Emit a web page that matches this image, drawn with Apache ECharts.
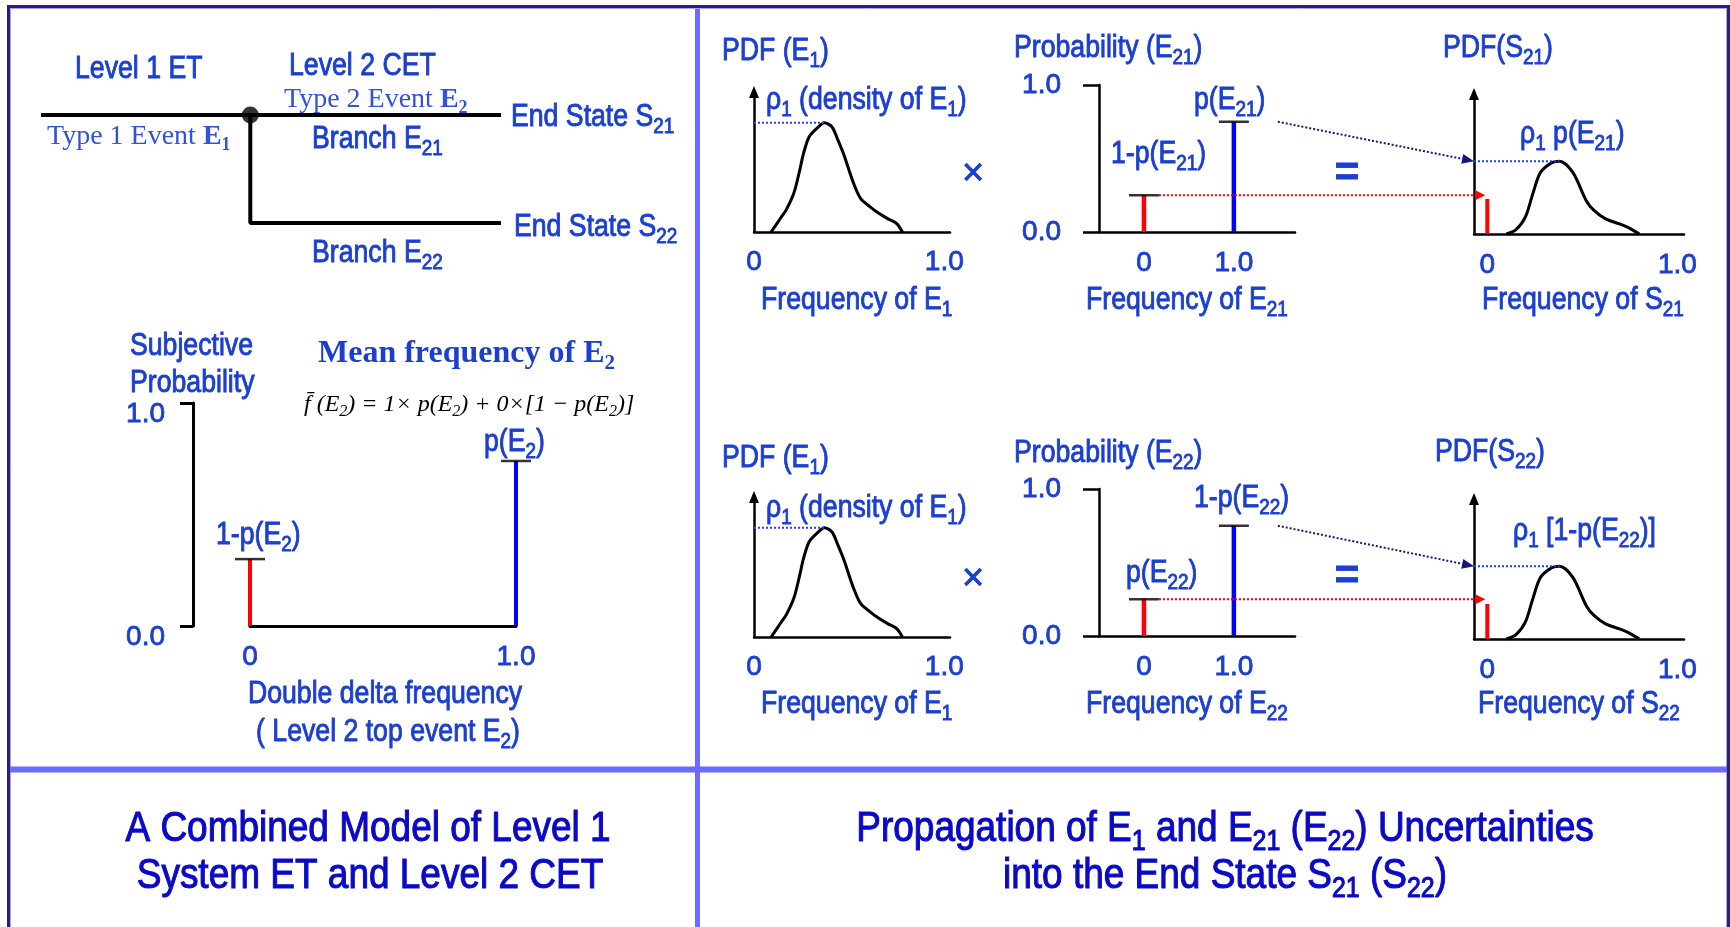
<!DOCTYPE html>
<html><head><meta charset="utf-8">
<script src="https://cdn.jsdelivr.net/npm/echarts@6/dist/echarts.min.js"></script>
<style>html,body{margin:0;padding:0;background:#fff}#c{width:1730px;height:927px}</style>
</head><body><div id="c"></div>
<script>
// ---------------- data ----------------
const treeStart = [0, 1];
const treeJunction = [0.455, 1];
const treeEndS21 = [1, 1];
const treeEndS22 = [1, 0];

const deltaFreq = [0, 1];
const deltaProbE2 = [0.30, 0.74];      // 1-p(E2), p(E2)

const probFreq = [0, 1];
const probE21 = [0.25, 0.75];          // 1-p(E21), p(E21)
const probE22 = [0.25, 0.75];          // p(E22), 1-p(E22)

const pdfE1Freq = [0.09,0.14,0.17,0.21,0.24,0.26,0.29,0.33,0.37,0.41,0.44,0.47,0.52,0.56,0.61,0.66,0.71,0.75,0.78];
const pdfE1Dens = [0.00,0.10,0.16,0.28,0.44,0.56,0.68,0.74,0.78,0.75,0.66,0.56,0.36,0.24,0.18,0.13,0.09,0.06,0.00];

const pdfSFreq = [0.10,0.15,0.20,0.24,0.28,0.34,0.38,0.45,0.52,0.56,0.62,0.70,0.75,0.80];
const pdfSDens = [0.00,0.03,0.12,0.29,0.44,0.51,0.52,0.44,0.24,0.17,0.11,0.07,0.04,0.00];

const spikeS21 = 0.25;
const spikeS22 = 0.25;

const freqTicks = [0, 1];
const freqTickLabels = ['0', '1.0'];
const probTicks = [0, 1];
const probTickLabels = ['0.0', '1.0'];

// ---------------- styles ----------------
const SANS = "'Liberation Sans', Arial, sans-serif";
const SERIF = "'Liberation Serif', 'Times New Roman', serif";
const NARROW = 0.86;
const BLUE = '#1b3fcf';
const CAPBLUE = '#0a0ac6';
const LIGHTBLUE = '#3352d4';
const RED = '#ff0000';
const BARBLUE = '#0000ff';
const AX = {color: '#000', width: 2.5};
const S_XMIN = -0.07;

function lbl(values, texts, margin, extra) {
  return Object.assign({show: true, customValues: values,
    formatter: function (v) { const i = values.indexOf(v); return i >= 0 ? texts[i] : ''; },
    margin: margin, fontSize: 28, fontFamily: SANS, color: BLUE,
    textBorderColor: BLUE, textBorderWidth: 0.8}, extra || {});
}

const grids = [], xAxes = [], yAxes = [], series = [];
function addGrid(g) { grids.push(Object.assign({containLabel: false, outerBoundsMode: 'none'}, g)); return grids.length - 1; }

// tree
const gT = addGrid({left: 41, top: 115, width: 460, height: 108});
xAxes.push({type: 'value', gridIndex: gT, min: 0, max: 1, show: false});
yAxes.push({type: 'value', gridIndex: gT, min: 0, max: 1, show: false});
// double delta
const gD = addGrid({left: 250, top: 403, width: 266, height: 223});
xAxes.push({type: 'value', gridIndex: gD, min: 0, max: 1,
  axisLine: {show: true, lineStyle: {color: '#000', width: 3}}, axisTick: {show: false}, splitLine: {show: false},
  axisLabel: lbl(freqTicks, freqTickLabels, 17)});
yAxes.push({type: 'value', gridIndex: gD, min: 0, max: 1, offset: 57,
  axisLine: {show: true, onZero: false, lineStyle: {color: '#000', width: 3}},
  axisTick: {show: true, customValues: probTicks, length: 13, lineStyle: {color: '#000', width: 3}},
  splitLine: {show: false},
  axisLabel: lbl(probTicks, probTickLabels, 28, {verticalAlign: 'top', lineHeight: 22})});

const rowTops = {e1: [92, 497], p: [85, 489], s: [94, 499]};
const rowGrids = [];
for (let r = 0; r < 2; r++) {
  const gE = addGrid({left: 754, top: rowTops.e1[r], width: 196, height: 140});
  xAxes.push({type: 'value', gridIndex: gE, min: 0, max: 1.03,
    axisLine: {show: true, lineStyle: AX}, axisTick: {show: false}, splitLine: {show: false},
    axisLabel: lbl(freqTicks, freqTickLabels, 16)});
  yAxes.push({type: 'value', gridIndex: gE, min: 0, max: 1,
    axisLine: {show: true, onZero: false, symbol: ['none', 'triangle'], symbolSize: [10, 12], lineStyle: AX},
    axisTick: {show: false}, axisLabel: {show: false}, splitLine: {show: false}});
  const gP = addGrid({left: 1099, top: rowTops.p[r], width: 196, height: 147});
  xAxes.push({type: 'value', gridIndex: gP, min: -0.5, max: 1.68,
    axisLine: {show: true, lineStyle: AX}, axisTick: {show: false}, splitLine: {show: false},
    axisLabel: lbl(freqTicks, freqTickLabels, 17)});
  yAxes.push({type: 'value', gridIndex: gP, min: 0, max: 1,
    axisLine: {show: true, onZero: false, lineStyle: AX},
    axisTick: {show: true, customValues: probTicks, length: 16, lineStyle: AX},
    splitLine: {show: false}, axisLabel: lbl(probTicks, probTickLabels, 38)});
  const gS = addGrid({left: 1474, top: rowTops.s[r], width: 210, height: 140});
  xAxes.push({type: 'value', gridIndex: gS, min: S_XMIN, max: 1.035,
    axisLine: {show: true, lineStyle: AX}, axisTick: {show: false}, splitLine: {show: false},
    axisLabel: lbl(freqTicks, freqTickLabels, 17)});
  yAxes.push({type: 'value', gridIndex: gS, min: 0, max: 1,
    axisLine: {show: true, onZero: false, symbol: ['none', 'triangle'], symbolSize: [10, 12], lineStyle: AX},
    axisTick: {show: false}, axisLabel: {show: false}, splitLine: {show: false}});
  rowGrids.push({gE, gP, gS});
}

function onGrid(g, s) { return Object.assign({xAxisIndex: g, yAxisIndex: g, clip: false, silent: true}, s); }
const treeLine = {color: '#000', width: 4};
series.push(onGrid(gT, {type: 'line', data: [treeStart, treeEndS21], symbol: 'none', lineStyle: treeLine}));
series.push(onGrid(gT, {type: 'line', data: [treeJunction, [treeJunction[0], treeEndS22[1]], treeEndS22], symbol: 'none', lineStyle: treeLine}));
series.push(onGrid(gT, {type: 'scatter', data: [treeJunction], symbolSize: 17, itemStyle: {color: '#000'}}));

function deltaBars(g, freqs, probs, width) {
  series.push(onGrid(g, {type: 'bar', barWidth: width,
    data: freqs.map((f, i) => ({value: [f, probs[i]], itemStyle: {color: i === 0 ? RED : BARBLUE}}))}));
  series.push(onGrid(g, {type: 'scatter', symbol: 'rect', symbolSize: [30, 2.5], z: 5,
    itemStyle: {color: '#000'}, data: freqs.map((f, i) => [f, probs[i]])}));
}
deltaBars(gD, deltaFreq, deltaProbE2, 4);

function peakOf(xs, ys) { let k = 0; ys.forEach((v, i) => { if (v > ys[k]) k = i; }); return [xs[k], ys[k]]; }
const e1Peak = peakOf(pdfE1Freq, pdfE1Dens);
const sPeak = peakOf(pdfSFreq, pdfSDens);
const dotted = {color: '#2b3bff', width: 2, type: [2, 2]};

rowGrids.forEach(function (rg, r) {
  const prob = r ? probE22 : probE21;
  const spike = r ? spikeS22 : spikeS21;
  series.push(onGrid(rg.gE, {type: 'line', smooth: 0.3, symbol: 'none', lineStyle: {color: '#000', width: 3},
    data: pdfE1Freq.map((f, i) => [f, pdfE1Dens[i]])}));
  series.push(onGrid(rg.gE, {type: 'line', symbol: 'none', lineStyle: dotted, data: [[0, e1Peak[1]], e1Peak]}));
  deltaBars(rg.gP, probFreq, prob, 4.5);
  series.push(onGrid(rg.gS, {type: 'line', smooth: 0.3, symbol: 'none', lineStyle: {color: '#000', width: 3},
    data: pdfSFreq.map((f, i) => [f, pdfSDens[i]])}));
  series.push(onGrid(rg.gS, {type: 'line', symbol: 'none', lineStyle: dotted, data: [[S_XMIN, sPeak[1]], sPeak]}));
  series.push(onGrid(rg.gS, {type: 'bar', barWidth: 4, data: [{value: [0, spike], itemStyle: {color: RED}}]}));
});

const chart = echarts.init(document.getElementById('c'), null, {renderer: 'canvas'});
chart.setOption({animation: false, backgroundColor: '#ffffff', grid: grids, xAxis: xAxes, yAxis: yAxes, series: series});

// ---------------- text & frame ----------------
function T(str, x, cy, o) {
  o = Object.assign({fs: 31, ff: SANS, color: BLUE, fw: 'normal', fst: 'normal', align: 'left', sub: null, subfw: null, sx: NARROW, sw: 0.9}, o || {});
  const F = o.fs, S = o.sub || Math.round(F * 0.7);
  const k = 0.44;
  const d = 0.347 * (F - S) + 0.2 * F;
  const P = Math.max(0, k * F + d - k * S);
  const base = {fontSize: F, fontFamily: o.ff, fontWeight: o.fw, fontStyle: o.fst, fill: o.color, color: o.color, verticalAlign: 'top'};
  if (o.sw > 0) { base.stroke = o.color; base.lineWidth = o.sw; }
  const bold = Object.assign({}, base, {fontWeight: 'bold'});
  const sub = Object.assign({}, base, {fontSize: S, fontWeight: o.subfw || o.fw, padding: [P, 0, 0, 0]});
  const parts = []; const re = /([_!])\{([^}]*)\}/g; let last = 0, m;
  while ((m = re.exec(str))) {
    if (m.index > last) parts.push('{m|' + str.slice(last, m.index) + '}');
    parts.push('{' + (m[1] === '_' ? 's' : 'b') + '|' + m[2] + '}');
    last = re.lastIndex;
  }
  if (last < str.length) parts.push('{m|' + str.slice(last) + '}');
  return {type: 'text', x: x, y: cy - k * F, scaleX: o.sx, silent: true, z: 100,
    style: {text: parts.join(''), rich: {m: base, s: sub, b: bold}, fontSize: F, fontFamily: o.ff, fill: o.color,
      align: o.align, textAlign: o.align, verticalAlign: 'top', textVerticalAlign: 'top'}};
}
const C = {align: 'center'};
const SER = {ff: SERIF, fs: 28, sub: 18, color: LIGHTBLUE, subfw: 'bold', sx: 1, sw: 0};
const CAP = {fs: 43, sub: 29, color: CAPBLUE, align: 'center', sw: 1.1};
const texts = [
  T('Level 1 ET', 75, 68), T('Level 2 CET', 289, 65),
  T('Type 2 Event !{E}_{2}', 284, 98, SER), T('Type 1 Event !{E}_{1}', 47, 135, SER),
  T('End State S_{21}', 511, 116), T('Branch E_{21}', 312, 138),
  T('End State S_{22}', 514, 226), T('Branch E_{22}', 312, 252),
  T('Subjective', 130, 345), T('Probability', 130, 382),
  T('Mean frequency of E_{2}', 318, 352, {ff: SERIF, fw: 'bold', fs: 32, sub: 21, sx: 1, sw: 0}),
  T('f\u0304 (E_{2}) = 1\u00d7 p(E_{2}) + 0\u00d7[1 \u2212 p(E_{2})]', 304, 403, {ff: SERIF, fst: 'italic', fs: 24, sub: 16, color: '#000', sx: 1, sw: 0}),
  T('1-p(E_{2})', 216, 534), T('p(E_{2})', 484, 441),
  T('Double delta frequency', 385, 693, C), T('( Level 2 top event E_{2})', 388, 731, C),
  // row 1
  T('PDF (E_{1})', 722, 50), T('\u03c1_{1} (density of E_{1})', 766, 99), T('Frequency of E_{1}', 761, 299),
  T('Probability (E_{21})', 1014, 47), T('1-p(E_{21})', 1111, 153), T('p(E_{21})', 1194, 99),
  T('Frequency of E_{21}', 1086, 299),
  T('\u00d7', 973, 172, {align: 'center', fs: 38, sx: 1}), T('=', 1347, 172, {align: 'center', fs: 42, fw: 'bold', sx: 1}),
  T('PDF(S_{21})', 1443, 47), T('\u03c1_{1} p(E_{21})', 1520, 133), T('Frequency of S_{21}', 1482, 299),
  // row 2
  T('PDF (E_{1})', 722, 457), T('\u03c1_{1} (density of E_{1})', 766, 507), T('Frequency of E_{1}', 761, 703),
  T('Probability (E_{22})', 1014, 452), T('p(E_{22})', 1126, 572), T('1-p(E_{22})', 1194, 497),
  T('Frequency of E_{22}', 1086, 703),
  T('\u00d7', 973, 577, {align: 'center', fs: 38, sx: 1}), T('=', 1347, 575, {align: 'center', fs: 42, fw: 'bold', sx: 1}),
  T('PDF(S_{22})', 1435, 451), T('\u03c1_{1} [1-p(E_{22})]', 1513, 530), T('Frequency of S_{22}', 1478, 703),
  // captions
  T('A Combined Model of Level 1', 368, 827, CAP), T('System ET and Level 2 CET', 370, 874, CAP),
  T('Propagation of E_{1} and E_{21} (E_{22}) Uncertainties', 1225, 827, CAP),
  T('into the End State S_{21} (S_{22})', 1225, 874, CAP)
];

const frame = [
  {type: 'rect', silent: true, z: 90, shape: {x: 8.5, y: 6.5, width: 1720, height: 1000}, style: {fill: 'none', stroke: '#2d1e78', lineWidth: 3}},
  {type: 'rect', silent: true, z: 90, shape: {x: 10.5, y: 8.5, width: 1716, height: 1000}, style: {fill: 'none', stroke: '#a4a4ff', lineWidth: 1}},
  {type: 'line', silent: true, z: 90, shape: {x1: 697.5, y1: 9, x2: 697.5, y2: 927}, style: {stroke: '#6b6bff', lineWidth: 5}},
  {type: 'line', silent: true, z: 90, shape: {x1: 10, y1: 769.5, x2: 1727, y2: 769.5}, style: {stroke: '#6b6bff', lineWidth: 6}}
];

function px(g, v) { return chart.convertToPixel({gridIndex: g}, v); }
function arrowEls(start, tip, color, len, w) {
  const dx = tip[0] - start[0], dy = tip[1] - start[1], Ln = Math.hypot(dx, dy), ux = dx / Ln, uy = dy / Ln;
  const bx = tip[0] - ux * len, by = tip[1] - uy * len, nx = -uy, ny = ux;
  return [
    {type: 'line', silent: true, z: 50, shape: {x1: start[0], y1: start[1], x2: bx, y2: by}, style: {stroke: color, lineWidth: 2, lineDash: [2, 2]}},
    {type: 'polygon', silent: true, z: 50, shape: {points: [tip, [bx + nx * w / 2, by + ny * w / 2], [bx - nx * w / 2, by - ny * w / 2]]}, style: {fill: color}}
  ];
}
let connectors = [];
rowGrids.forEach(function (rg, r) {
  const prob = r ? probE22 : probE21;
  const rs = px(rg.gP, [probFreq[0], prob[0]]);
  const redStart = [rs[0] + 15, rs[1]];
  const redTip = [px(rg.gS, [0, 0])[0] - 2, rs[1]];
  connectors = connectors.concat(arrowEls(redStart, redTip, RED, 10, 10));
  const bs = px(rg.gP, [probFreq[1], prob[1]]);
  const blueStart = [bs[0] + 44, bs[1]];
  const blueTip = px(rg.gS, [S_XMIN, sPeak[1]]);
  connectors = connectors.concat(arrowEls(blueStart, blueTip, '#16167e', 12, 10));
});

chart.setOption({graphic: {elements: frame.concat(connectors, texts)}});
</script></body></html>
